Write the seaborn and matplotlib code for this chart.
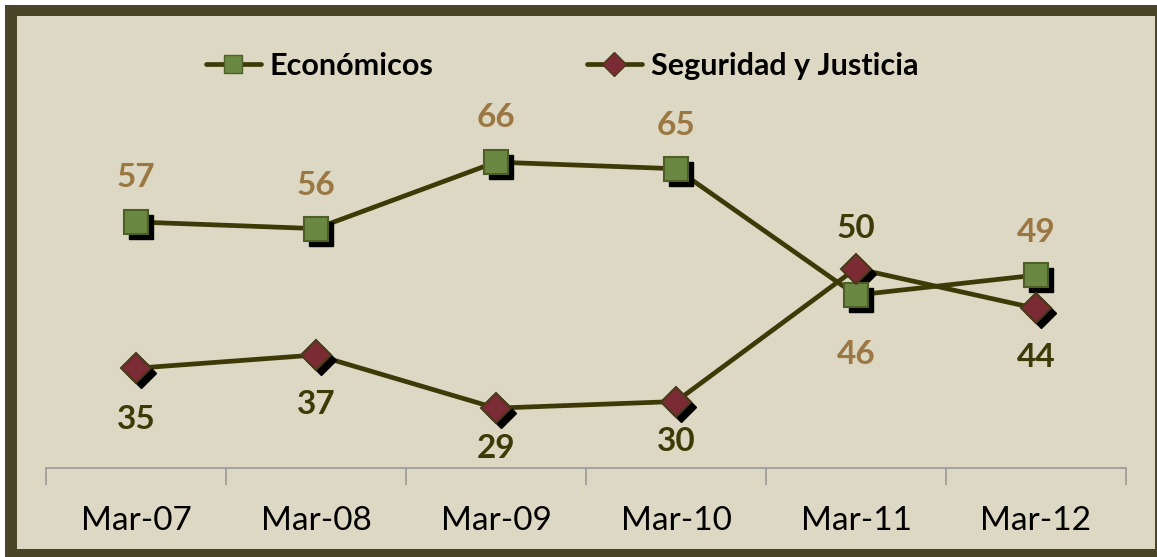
import pandas as pd
import seaborn as sns
import matplotlib.pyplot as plt
from matplotlib.patches import Rectangle
from matplotlib.transforms import offset_copy
from matplotlib.lines import Line2D

meses = ["Mar-07", "Mar-08", "Mar-09", "Mar-10", "Mar-11", "Mar-12"]
economicos = [57, 56, 66, 65, 46, 49]
seguridad = [35, 37, 29, 30, 50, 44]

data = pd.DataFrame({"mes": meses, "Económicos": economicos, "Seguridad y Justicia": seguridad})

# label offsets (points, + above / - below)
off_eco = [32, 31, 32, 31, -43, 31]
off_seg = [-37, -36, -29, -29, 29, -35]

sns.set_theme(style="white")
plt.rcParams["font.family"] = ["Lato", "DejaVu Sans"]

W, H = 1157, 557
fig = plt.figure(figsize=(W / 100, H / 100), dpi=100)
fig.patch.set_facecolor("white")
fig.patches.append(Rectangle((5 / W, 0), 1, (H - 5) / H, transform=fig.transFigure,
                             facecolor="#4a4429", edgecolor="none", zorder=-10))
fig.patches.append(Rectangle((17 / W, 8 / H), (1155 - 17) / W, (549 - 16) / H,
                             transform=fig.transFigure, facecolor="#ddd8c3",
                             edgecolor="none", zorder=-9))

ax = fig.add_axes([46 / W, 89 / H, (1126 - 46) / W, (488 - 89) / H])
ax.set_facecolor("none")
ax.set_zorder(1)

line_c = "#3d3a08"
series = [
    ("Económicos", "s", "#6b8842", "#4d5f26", 17, "#9a7743", off_eco),
    ("Seguridad y Justicia", "D", "#7a2b33", "#4a3a1a", 15, "#3d3a08", off_seg),
]

shadow_tr = offset_copy(ax.transData, fig=fig, x=5, y=-5, units="dots")
handles = []
for name, mk, fc, ec, ms, lab_c, offs in series:
    sns.lineplot(data=data, x="mes", y=name, ax=ax, color=line_c, linewidth=3.4,
                 sort=False, zorder=2)
    ax.plot(range(len(meses)), data[name], linestyle="none", marker=mk, markersize=ms,
            color="black", markeredgecolor="black", transform=shadow_tr, zorder=3)
    ax.plot(range(len(meses)), data[name], linestyle="none", marker=mk, markersize=ms,
            markerfacecolor=fc, markeredgecolor=ec, markeredgewidth=1.5, zorder=4)
    for i, v in enumerate(data[name]):
        ax.annotate(str(v), (i, v), xytext=(0, offs[i]), textcoords="offset points",
                    ha="center", va="center", fontsize=24, fontweight="bold",
                    color=lab_c, zorder=5)
    handles.append(Line2D([], [], color=line_c, linewidth=3.4, marker=mk, markersize=ms * 0.8,
                          markerfacecolor=fc, markeredgecolor=ec, label=name))

ax.set_xlim(-0.5, 5.5)
ax.set_ylim(20, 80)
ax.set_xlabel("")
ax.set_ylabel("")
ax.set_yticks([])
for s in ["top", "right", "left"]:
    ax.spines[s].set_visible(False)
ax.spines["bottom"].set_color("#999999")
ax.spines["bottom"].set_linewidth(1.2)
ax.set_xticks(range(len(meses)))
ax.set_xticklabels(meses, fontsize=24, color="black")
ax.set_xticks([i - 0.5 for i in range(len(meses) + 1)], minor=True)
ax.tick_params(axis="x", which="major", length=0, pad=27)
ax.tick_params(axis="x", which="minor", bottom=True, length=12, width=1.2,
               color="#999999", direction="out")

leg = fig.legend(handles=handles, loc="center", bbox_to_anchor=(562 / W, 1 - 66 / H),
                 ncol=2, frameon=False, fontsize=22, handlelength=1.8, handletextpad=0.3,
                 columnspacing=5.0)
for t in leg.get_texts():
    t.set_fontweight("bold")
    t.set_color("black")

fig.savefig("out.png", dpi=100)
